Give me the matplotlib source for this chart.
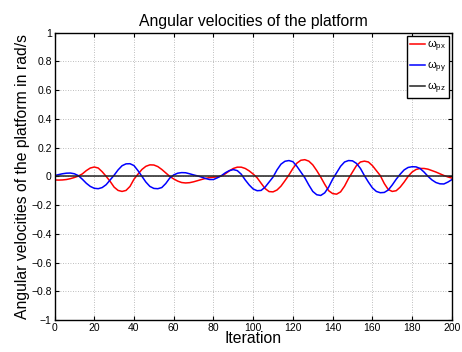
import matplotlib
matplotlib.use("Agg")
import matplotlib.pyplot as plt
import numpy as np

plt.rcParams['font.family'] = ['Liberation Sans', 'DejaVu Sans']
plt.rcParams['mathtext.fontset'] = 'custom'
plt.rcParams['mathtext.rm'] = 'Liberation Sans'
plt.rcParams['mathtext.it'] = 'Liberation Sans'

# iterations sampled every 2 steps
iteration = list(range(0, 201, 2))

w_px = [-0.025, -0.026, -0.025, -0.022, -0.016, -0.008, 0.002, 0.017, 0.040, 0.058,
        0.065, 0.058, 0.032, 0.000, -0.035, -0.075, -0.098, -0.105, -0.098, -0.070,
        -0.020, 0.015, 0.048, 0.070, 0.080, 0.079, 0.068, 0.048, 0.024, 0.000,
        -0.018, -0.033, -0.043, -0.046, -0.044, -0.038, -0.030, -0.022, -0.014, -0.009,
        -0.006, -0.004, 0.002, 0.018, 0.038, 0.055, 0.064, 0.064, 0.055, 0.038,
        0.016, -0.010, -0.048, -0.085, -0.106, -0.108, -0.095, -0.068, -0.030, 0.010,
        0.055, 0.092, 0.112, 0.116, 0.106, 0.080, 0.040, -0.005, -0.055, -0.100,
        -0.120, -0.124, -0.108, -0.068, -0.015, 0.030, 0.075, 0.100, 0.106, 0.100,
        0.075, 0.040, 0.005, -0.050, -0.092, -0.105, -0.100, -0.075, -0.040, 0.000,
        0.030, 0.048, 0.055, 0.055, 0.050, 0.040, 0.030, 0.018, 0.006, -0.004,
        -0.012]

w_py = [0.005, 0.012, 0.018, 0.022, 0.023, 0.018, 0.005, -0.020, -0.048, -0.070,
        -0.083, -0.086, -0.078, -0.058, -0.025, 0.008, 0.045, 0.074, 0.087, 0.088,
        0.075, 0.040, 0.000, -0.040, -0.070, -0.084, -0.086, -0.078, -0.050, -0.012,
        0.010, 0.022, 0.026, 0.025, 0.018, 0.010, 0.003, -0.005, -0.015, -0.022,
        -0.022, -0.010, 0.005, 0.025, 0.040, 0.047, 0.040, 0.015, -0.025, -0.060,
        -0.088, -0.100, -0.098, -0.075, -0.040, -0.005, 0.045, 0.085, 0.105, 0.110,
        0.102, 0.070, 0.030, -0.010, -0.060, -0.105, -0.128, -0.133, -0.115, -0.075,
        -0.020, 0.025, 0.070, 0.100, 0.110, 0.108, 0.090, 0.055, 0.005, -0.040,
        -0.080, -0.105, -0.114, -0.112, -0.095, -0.060, -0.020, 0.015, 0.045, 0.062,
        0.067, 0.066, 0.055, 0.030, 0.000, -0.025, -0.043, -0.052, -0.053, -0.040,
        -0.023]

w_pz = [0.004] * len(iteration)

y_ticks = [-1, -0.8, -0.6, -0.4, -0.2, 0, 0.2, 0.4, 0.6, 0.8, 1]
y_labels = ['\u22121', '\u22120.8', '\u22120.6', '\u22120.4', '\u22120.2', '0',
            '0.2', '0.4', '0.6', '0.8', '1']
x_ticks = list(range(0, 201, 20))

fig = plt.figure(figsize=(4.62, 3.52), dpi=100)
ax = fig.add_axes([0.118, 0.091, 0.86, 0.816])

ax.plot(iteration, w_px, color='#ff0000', lw=1.1, label='\u03c9$_{px}$')
ax.plot(iteration, w_py, color='#0000ff', lw=1.1, label='\u03c9$_{py}$')
ax.plot(iteration, w_pz, color='#222222', lw=1.1, label='\u03c9$_{pz}$')

ax.set_xlim(0, 200)
ax.set_ylim(-1, 1)
ax.set_xticks(x_ticks)
ax.set_yticks(y_ticks)
ax.set_yticklabels(y_labels)
ax.tick_params(direction='in', top=True, right=True, labelsize=7.5, length=3,
               pad=2)
# MATLAB draws the bottom y label raised above the axis corner
ax.get_yticklabels()[0].set_va('center_baseline')
ax.get_yticklabels()[0].set_y(-0.985)
ax.grid(True, linestyle=(0, (1, 2)), color='#a8a8a8', linewidth=0.6)
for s in ax.spines.values():
    s.set_linewidth(1.0)

ax.set_title('Angular velocities of the platform', fontsize=11.3, pad=5)
ax.set_xlabel('Iteration', fontsize=11.3, labelpad=-1)
ax.set_ylabel('Angular velocities of the platform in rad/s', fontsize=11.3,
              labelpad=1)

leg = ax.legend(loc='upper right', fontsize=8, fancybox=False, framealpha=1,
                edgecolor='black', handlelength=1.4, handletextpad=0.2,
                borderaxespad=0.25, labelspacing=0.5, borderpad=0.25)
leg.get_frame().set_linewidth(1.0)

plt.savefig('out.png', dpi=100)
